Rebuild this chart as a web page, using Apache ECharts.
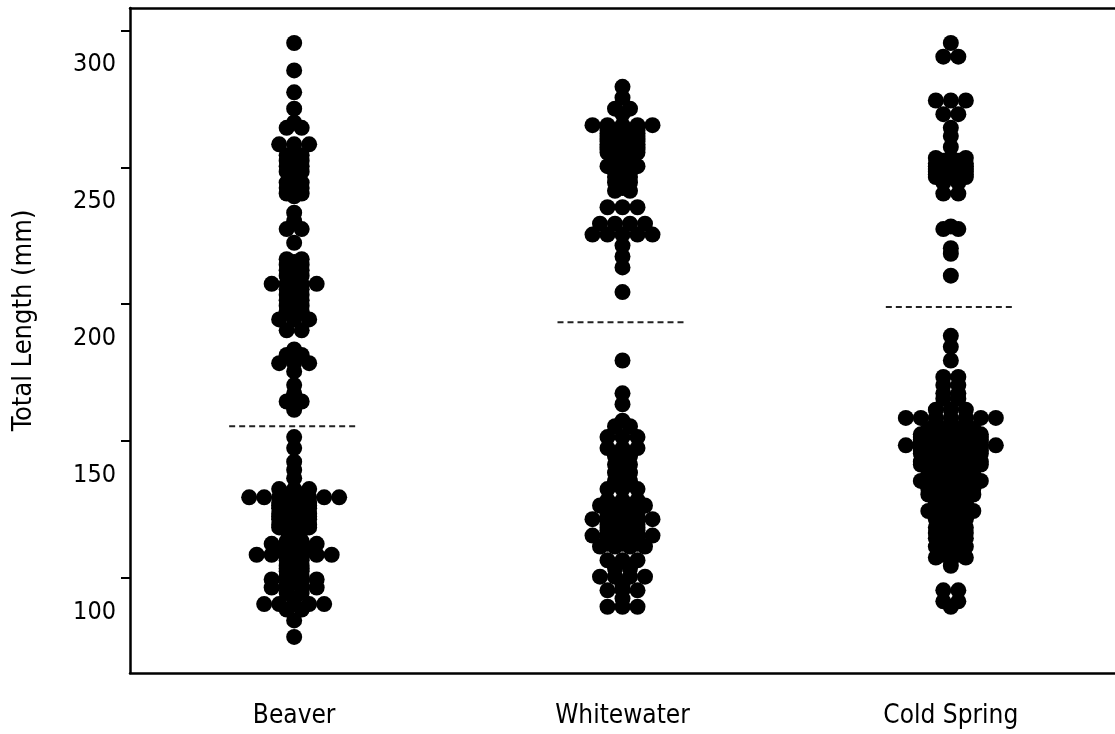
<!DOCTYPE html>
<html><head><meta charset="utf-8">
<script src="https://cdn.jsdelivr.net/npm/echarts@6/dist/echarts.min.js"></script>
<style>html,body{margin:0;padding:0;background:#fff}#c{width:1115px;height:734px}</style>
</head><body><div id="c"></div>
<script>
const categories = ['Beaver', 'Whitewater', 'Cold Spring'];

// Total length (mm) of each fish (repeats = tied values)
const beaver = [
  308, 298, 290, 284, 279, 277, 277, 271, 271, 271,
  267, 267, 266, 265, 265, 264, 263, 263, 262, 261, 261, 260, 259, 258, 257, 257,
  256, 255, 255, 254, 253, 253, 252,
  246, 243, 240, 240, 235,
  229, 229, 228, 227, 227, 226, 225, 225, 224, 223, 223, 222, 220, 220, 220, 220,
  219, 218, 218, 217, 216, 216, 215, 214, 214, 213, 212, 212, 211, 210, 210, 209,
  207, 207, 207, 203, 203,
  196, 194, 194, 191, 191, 191, 188, 183, 180, 177, 177, 174,
  164, 160, 155, 152, 149,
  145, 145, 145, 143, 143, 142, 142, 142, 142, 142, 142, 142, 141, 141,
  140, 140, 140, 139, 139, 139, 138, 138, 138, 137, 137,
  136, 136, 136, 135, 135, 135, 134, 134, 134, 133, 133, 132, 132, 132, 131, 131, 131,
  130, 130, 129, 128, 127, 126, 126, 125, 125, 125, 125, 124, 124,
  123, 123, 123, 122, 122, 121, 121, 121, 121, 121, 121, 120, 120,
  119, 119, 118, 117, 117, 116, 116, 115, 115, 114, 113, 113,
  112, 112, 112, 112, 111, 110, 110, 109, 109, 109, 109, 107, 107, 105,
  103, 103, 103, 103, 103, 101, 101, 97, 91
];
const whitewater = [
  292, 288, 284, 284, 282, 278, 278, 278, 278, 278,
  277, 277, 277, 276, 276, 276, 275, 275, 275, 274, 274, 274, 273, 273, 273,
  272, 272, 272, 271, 271, 271, 270, 270, 270, 269, 269, 269, 268, 268, 268,
  267, 267, 266, 266, 265, 265, 264,
  263, 263, 263, 262, 261, 261, 260, 259, 259, 258, 257, 257, 256, 255, 254, 254,
  248, 248, 248, 242, 242, 242, 242, 238, 238, 238, 238, 238, 234, 230, 226, 217,
  192, 180, 176, 170, 168, 168, 164, 164, 164, 160, 160, 160,
  157, 157, 155, 154, 154, 151, 151, 150, 148, 148, 145, 145, 145,
  141, 141, 141, 139, 139, 139, 139, 138, 138, 137, 137, 137, 136, 136, 136,
  135, 135, 135, 134, 134, 134, 134, 134, 132, 132, 132,
  131, 131, 131, 130, 130, 130, 129, 129, 128, 128, 128, 128, 128,
  127, 127, 127, 126, 126, 126, 125, 125, 125, 124, 124, 124, 124,
  119, 119, 119, 116, 116, 113, 113, 113, 113, 110, 108, 108, 108, 105, 102, 102, 102
];
const coldSpring = [
  308, 303, 303, 287, 287, 287, 282, 282, 277, 274, 270,
  266, 266, 266, 265, 265, 264, 264, 264, 263, 263, 263, 262, 262, 262,
  261, 261, 261, 260, 260, 260, 259, 259, 259, 258, 258, 257, 257, 253, 253,
  241, 240, 240, 233, 231, 223,
  201, 197, 192, 186, 186, 183, 183, 180, 180, 178, 178, 174, 174, 174,
  171, 171, 171, 171, 171, 171, 171, 169, 169, 169, 168, 168, 168,
  167, 167, 167, 167, 166, 166, 166, 166, 165, 165, 165, 165, 165,
  164, 164, 164, 164, 164, 163, 163, 163, 163, 163, 162, 162, 162, 162, 162,
  161, 161, 161, 161, 161, 161, 161, 160, 160, 160, 160, 160, 159, 159, 159, 159, 159,
  158, 158, 158, 158, 158, 157, 157, 157, 157, 156, 156, 156, 156,
  155, 155, 155, 155, 155, 154, 154, 154, 154, 154, 153, 153, 153, 153, 152, 152, 152, 152,
  150, 150, 150, 150, 149, 149, 149, 148, 148, 148, 148, 148,
  146, 146, 146, 146, 145, 145, 145, 145, 144, 144, 144, 143, 143, 143, 143,
  142, 142, 142, 141, 141, 141, 140, 140, 140, 139, 139, 139, 138, 138, 138,
  137, 137, 137, 137, 136, 136, 136, 135, 135, 135,
  134, 134, 134, 133, 133, 132, 132, 131, 131, 131, 129, 129, 129, 128, 128,
  127, 127, 127, 126, 126, 125, 125, 124, 124, 124, 122, 122, 121, 121, 120, 120, 120, 117,
  108, 108, 104, 104, 102
];
const groups = [beaver, whitewater, coldSpring];
const cutoffs = [168, 206, 211.5];           // dashed separator per site
const yLabelValues = [100, 150, 200, 250, 300];
const yTickValues = [112.6, 162.6, 212.6, 262.6, 312.6];

const F = "'DejaVu Sans Condensed', 'Noto Sans', sans-serif";
const DOT = 16, STEP = 15, HALF_LINE_PX = 65;

const chart = echarts.init(document.getElementById('c'), null, {renderer: 'canvas'});
const base = {
  animation: false,
  backgroundColor: '#fff',
  grid: {left: 130, top: 8, right: -5, bottom: 61, containLabel: false},
  xAxis: [{
    type: 'category', data: categories, boundaryGap: true, position: 'bottom',
    axisLine: {onZero: false, lineStyle: {color: '#000', width: 2.5}},
    axisTick: {alignWithLabel: true, length: 8, lineStyle: {color: '#000', width: 2}},
    axisLabel: {fontSize: 26, color: '#000', margin: 30, fontFamily: F},
    splitLine: {show: false}
  }, {
    type: 'value', min: -0.5, max: 2.5, position: 'top',
    axisLine: {show: true, onZero: false, lineStyle: {color: '#000', width: 2.5}},
    axisTick: {show: false}, axisLabel: {show: false}, splitLine: {show: false}
  }],
  yAxis: [{
    type: 'value', min: 77.8, max: 320.8,
    name: 'Total Length (mm)', nameLocation: 'middle', nameGap: 93, nameRotate: 90,
    nameTextStyle: {fontSize: 27, color: '#000', fontFamily: F, padding: [0, 0, 0, 40]},
    axisLine: {show: true, onZero: false, lineStyle: {color: '#000', width: 2.5}},
    axisTick: {show: true, length: 9, customValues: yTickValues, lineStyle: {color: '#000', width: 2}},
    axisLabel: {customValues: yLabelValues, fontSize: 25, color: '#000', margin: 14, fontFamily: F},
    splitLine: {show: false}
  }],
  series: []
};
chart.setOption(base);

const p0 = chart.convertToPixel({xAxisIndex: 1}, 0);
const p1 = chart.convertToPixel({xAxisIndex: 1}, 1);
const pxPerUnit = p1 - p0;

function centeredRows(values, gi) {
  const counts = {}, seen = {};
  values.forEach(v => { counts[v] = (counts[v] || 0) + 1; });
  return values.map(v => {
    const n = counts[v];
    const i = seen[v] = (seen[v] === undefined ? 0 : seen[v] + 1);
    const off = (i - (n - 1) / 2) * STEP;
    return [gi + off / pxPerUnit, v];
  });
}

const series = [];
groups.forEach((vals, gi) => {
  const hw = HALF_LINE_PX / pxPerUnit;
  series.push({
    type: 'line', xAxisIndex: 1, yAxisIndex: 0, symbol: 'none', silent: true,
    data: [[gi - hw, cutoffs[gi]], [gi + hw, cutoffs[gi]]],
    lineStyle: {color: '#222', width: 2, type: [6, 4]}
  });
  series.push({
    type: 'scatter', name: categories[gi], xAxisIndex: 1, yAxisIndex: 0,
    symbol: 'circle', symbolSize: DOT, itemStyle: {color: '#000', opacity: 1},
    data: centeredRows(vals, gi)
  });
});
chart.setOption({series: series});
</script>
</body></html>
